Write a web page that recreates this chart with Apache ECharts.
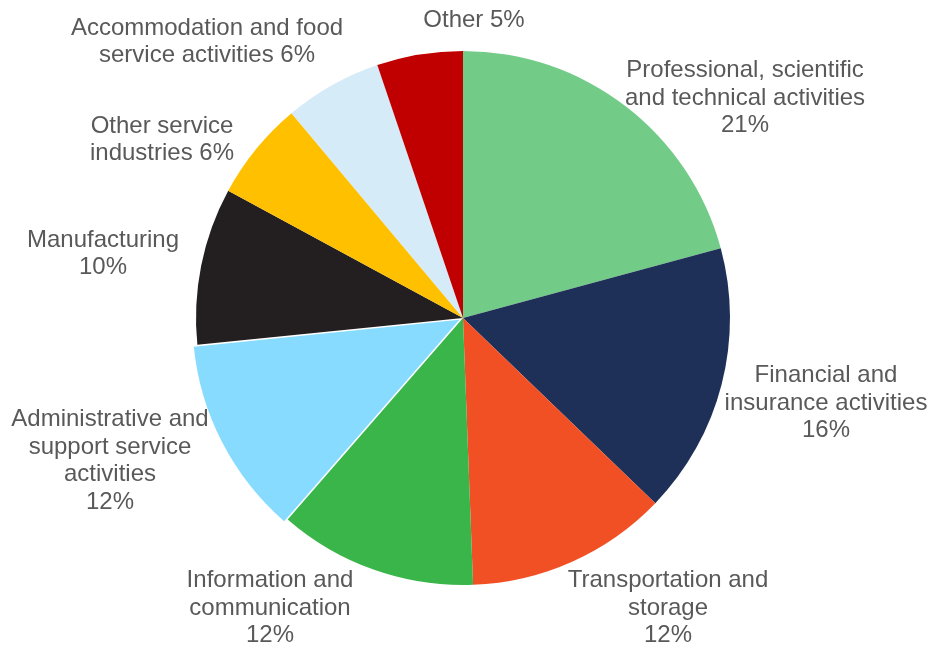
<!DOCTYPE html>
<html>
<head>
<meta charset="utf-8">
<script src="https://cdn.jsdelivr.net/npm/echarts@6/dist/echarts.min.js"></script>
<style>
html,body{margin:0;padding:0;background:#fff;}
#chart{width:931px;height:648px;}
</style>
</head>
<body>
<div id="chart"></div>
<script>
// Data
var categories = [
  "Professional, scientific and technical activities",
  "Financial and insurance activities",
  "Transportation and storage",
  "Information and communication",
  "Administrative and support service activities",
  "Manufacturing",
  "Other service industries",
  "Accommodation and food service activities",
  "Other"
];
var values = [20.8, 16.4, 12.2, 12.0, 12.0, 9.5, 6.0, 5.9, 5.2];
var percentLabels = ["21%", "16%", "12%", "12%", "12%", "10%", "6%", "6%", "5%"];
var labelTexts = [
  "Professional, scientific\nand technical activities\n{p}",
  "Financial and\ninsurance activities\n{p}",
  "Transportation and\nstorage\n{p}",
  "Information and\ncommunication\n{p}",
  "Administrative and\nsupport service\nactivities\n{p}",
  "Manufacturing\n{p}",
  "Other service\nindustries {p}",
  "Accommodation and food\nservice activities {p}",
  "Other {p}"
];
var colors = ["#72CB87", "#1F3058", "#F15025", "#39B54A", "#87DBFF", "#231F20", "#FFC000", "#D5EBF7", "#C00000"];
var explodedIndex = 4;
// label anchor positions (layout)
var labelPos = [
  [745, 98], [826, 403], [668, 608], [270, 608], [110, 461],
  [103, 254], [162, 140], [207, 42], [474, 20]
];

var chart = echarts.init(document.getElementById('chart'), null, {renderer: 'canvas'});
var clear = 'rgba(0,0,0,0)';

// main pie (all slices except the exploded one, plus all labels)
var mainData = categories.map(function (c, i) {
  return {
    name: c,
    value: values[i],
    itemStyle: {color: i === explodedIndex ? clear : colors[i]}
  };
});
// overlay pie: only the exploded slice is visible
var explodeData = categories.map(function (c, i) {
  return {
    name: c,
    value: values[i],
    selected: i === explodedIndex,
    itemStyle: {color: i === explodedIndex ? colors[i] : clear}
  };
});

var common = {
  type: 'pie',
  center: [463, 318],
  radius: [0, 267],
  startAngle: 90,
  clockwise: true,
  emphasis: {disabled: true},
  labelLine: {show: false}
};

chart.setOption({
  animation: false,
  backgroundColor: '#ffffff',
  series: [
    Object.assign({}, common, {
      name: 'main',
      data: mainData,
      selectedMode: false,
      label: {
        show: true,
        position: 'inside',
        color: '#595959',
        fontFamily: 'Liberation Sans, Arial, sans-serif',
        fontSize: 24,
        lineHeight: 27.5,
        align: 'center',
        overflow: 'none',
        formatter: function (p) {
          return labelTexts[p.dataIndex].replace('{p}', percentLabels[p.dataIndex]);
        }
      },
      labelLayout: function (params) {
        var pos = labelPos[params.dataIndex];
        return {x: pos[0], y: pos[1], align: 'center', verticalAlign: 'middle'};
      }
    }),
    Object.assign({}, common, {
      name: 'explode',
      data: explodeData,
      selectedMode: 'single',
      selectedOffset: 4,
      label: {show: false}
    })
  ]
});
</script>
</body>
</html>
